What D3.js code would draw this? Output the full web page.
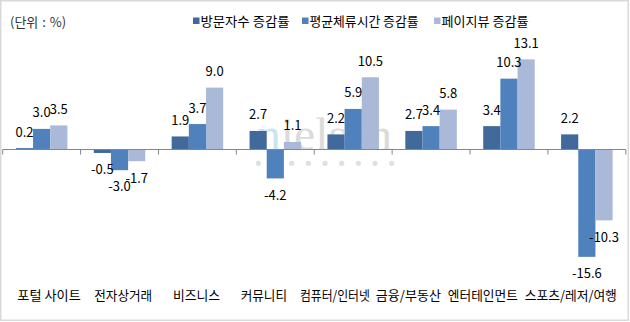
<!DOCTYPE html>
<html><head><meta charset="utf-8">
<script src="https://cdn.jsdelivr.net/npm/d3@7"></script>
<style>
html,body{margin:0;padding:0;background:#fff;}
svg{display:block;}
text{font-family:"Noto Sans CJK KR","Noto Sans",sans-serif;}
</style></head>
<body>
<script>
// ---- data ----
const categories = ["포털 사이트","전자상거래","비즈니스","커뮤니티","컴퓨터/인터넷","금융/부동산","엔터테인먼트","스포츠/레저/여행"];
const seriesNames = ["방문자수 증감률","평균체류시간 증감률","페이지뷰 증감률"];
const visitors   = [0.2, -0.5, 1.9, 2.7, 2.2, 2.7, 3.4, 2.2];
const dwellTime  = [3.0, -3.0, 3.7, -4.2, 5.9, 3.4, 10.3, -15.6];
const pageViews  = [3.5, -1.7, 9.0, 1.1, 10.5, 5.8, 13.1, -10.3];
const unitLabel = "(단위 : %)";

// ---- layout ----
const W = 630, H = 322;
const colors = ["#41699C", "#4F81BD", "#AAB9D8"];
const seriesValues = [visitors, dwellTime, pageViews];
const labelShift = [7.4, 3.7, -1, -11.5, -18.3, -22.7, -26.1, -16];
const labelWidth = [63.4, 58, 47, 46.3, 70, 65, 70, 92];
const legendX = [193, 302, 434];
const legendWidth = [89, 109, 87];

const svg = d3.select("body").append("svg").attr("width", W).attr("height", H);
svg.append("rect").attr("x",0.75).attr("y",0.75).attr("width",W-2.5).attr("height",H-2.5)
  .attr("fill","#fff").attr("stroke","#D9D9D9").attr("stroke-width",1.5);

const x0 = d3.scaleBand().domain(categories).range([2.7, 625.8]).paddingInner(0).paddingOuter(0);
const groupW = 51.5;
const x1 = d3.scaleBand().domain(d3.range(3)).range([0, groupW]);
const y = d3.scaleLinear().domain([-16, 14]).range([259.6, 53.2]);
const y0 = y(0);
const fmt = v => v.toFixed(1);

// watermark (logo decoration)
const wm = svg.append("g");
const wt = wm.append("text").attr("x", 257).attr("y", y0 + 0.5)
  .attr("textLength", 135).attr("lengthAdjust", "spacingAndGlyphs")
  .style("font-family", "'Liberation Serif','DejaVu Serif',serif").style("font-size","46px");
wt.append("tspan").attr("fill", "#CBE5EF").text("n");
wt.append("tspan").attr("fill", "#DBDBDB").text("ielsen");
wm.selectAll("circle").data(d3.range(9)).join("circle")
  .attr("cx", d => 258.4 + d * 16.66).attr("cy", y0 + 13.8).attr("r", 2.6).attr("fill", "#E0E0E0");

// bars
const rows = categories.map((c, i) => ({c, vals: seriesValues.map(s => s[i])}));
const g = svg.append("g");
const grp = g.selectAll("g.grp").data(rows).join("g").attr("class","grp")
  .attr("transform", d => `translate(${x0(d.c) + (x0.bandwidth() - groupW) / 2},0)`);
grp.selectAll("rect").data(d => d.vals.map((v, k) => ({v, k}))).join("rect")
  .attr("x", d => x1(d.k)).attr("width", x1.bandwidth())
  .attr("y", d => Math.min(y(d.v), y0)).attr("height", d => Math.abs(y(d.v) - y0))
  .attr("fill", d => colors[d.k]);

// axis
const axis = d3.axisBottom(x0).tickSize(5).tickFormat("");
const ag = svg.append("g").attr("transform", `translate(0,${y0})`).call(axis);
ag.select(".domain").attr("stroke", "#868686").attr("d", `M2.7,0H625.8`);
ag.selectAll(".tick").remove();
const tickPos = d3.range(categories.length + 1).map(i => x0.range()[0] + i * x0.step());
ag.selectAll("line.t").data(tickPos).join("line").attr("class","t")
  .attr("x1", d => d).attr("x2", d => d).attr("y1", 0).attr("y2", 5).attr("stroke", "#868686");

// data labels
grp.selectAll("text.lab").data(d => d.vals.map((v, k) => ({v, k}))).join("text").attr("class","lab")
  .attr("x", d => x1(d.k) + x1.bandwidth() / 2)
  .attr("y", d => d.v >= 0 ? y(d.v) - 16 + 4.5 : y(d.v) + 16.8 + 4.5)
  .attr("text-anchor", "middle").style("font-size", "13px").attr("fill", "#000")
  .text(d => fmt(d.v));

// category labels
svg.append("g").selectAll("text").data(categories).join("text")
  .attr("x", (d, i) => x0(d) + x0.bandwidth() / 2 + labelShift[i] - labelWidth[i] / 2)
  .attr("y", 299.5)
  .attr("textLength", (d, i) => labelWidth[i]).attr("lengthAdjust", "spacingAndGlyphs")
  .style("font-size", "13px").attr("fill", "#000")
  .text(d => d);

// unit label
svg.append("text").attr("x", 10).attr("y", 26.5).text(unitLabel)
  .style("font-size", "13px").style("word-spacing", "1px").attr("fill", "#333");

// legend
const leg = svg.append("g").selectAll("g").data(seriesNames).join("g")
  .attr("transform", (d, i) => `translate(${legendX[i]},0)`);
leg.append("rect").attr("x", 0).attr("y", 17.5).attr("width", 6.5).attr("height", 6.5).attr("fill", (d, i) => colors[i]);
leg.append("text").attr("x", 7.5).attr("y", 25.5).text(d => d)
  .attr("textLength", (d, i) => legendWidth[i]).attr("lengthAdjust", "spacingAndGlyphs")
  .style("font-size", "13px").attr("fill", "#000");
</script>
</body></html>
